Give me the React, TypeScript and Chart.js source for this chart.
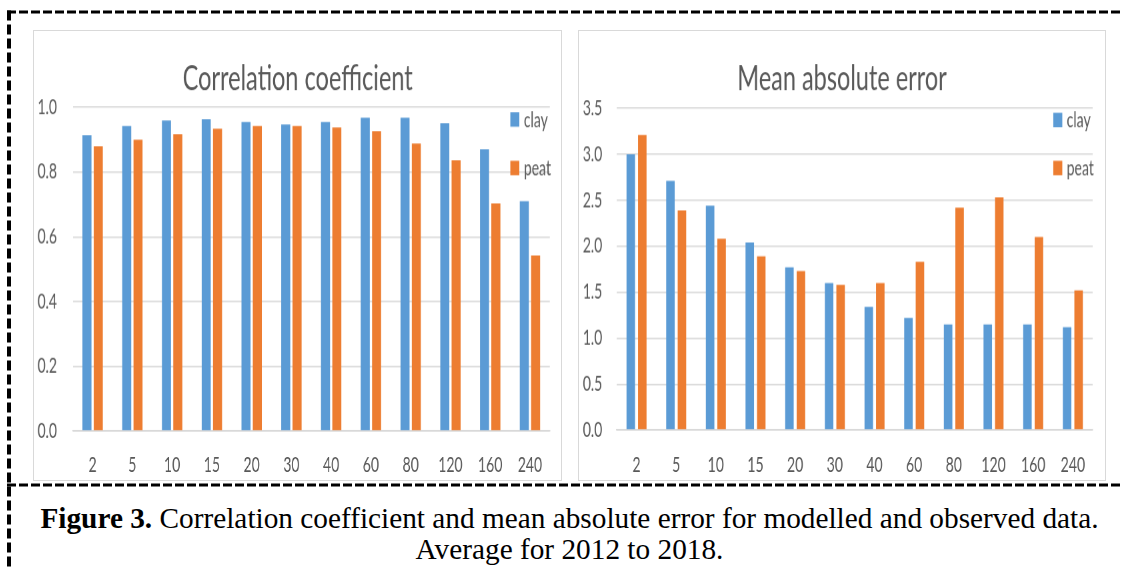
import React, { useEffect, useRef } from "react";
import { Chart, registerables } from "chart.js";

Chart.register(...registerables);

// ---- data ----
const INTERVALS = ["2", "5", "10", "15", "20", "30", "40", "60", "80", "120", "160", "240"];
const SERIES_NAMES = ["clay", "peat"];
const CORR_CLAY = [0.914, 0.942, 0.959, 0.963, 0.955, 0.947, 0.955, 0.968, 0.968, 0.951, 0.870, 0.710];
const CORR_PEAT = [0.880, 0.900, 0.917, 0.934, 0.942, 0.942, 0.938, 0.926, 0.888, 0.836, 0.703, 0.542];
const MAE_CLAY = [3.00, 2.71, 2.44, 2.04, 1.77, 1.60, 1.34, 1.22, 1.15, 1.15, 1.15, 1.12];
const MAE_PEAT = [3.21, 2.39, 2.08, 1.89, 1.73, 1.58, 1.60, 1.83, 2.42, 2.53, 2.10, 1.52];
const CORR_TICKS = { min: 0, max: 1.0, step: 0.2 };
const MAE_TICKS = { min: 0, max: 3.5, step: 0.5 };

const COLORS = ["#5B9BD5", "#ED7D31"];
const TEXT = "#595959";
const GRID = "#D9D9D9";
const FONT = "Lato, 'Open Sans', sans-serif";

const H = 300; // logical canvas height (stretched vertically)

interface PanelProps {
  title: string;
  clay: number[];
  peat: number[];
  ticks: { min: number; max: number; step: number };
  left: number;
  top: number;
  width: number;
  height: number;
  plotLeft: number;
  plotRight: number;
  plotTop: number;
  plotBottom: number;
  yLabelRight: number;
  xLabelY: number;
  catPct: number;
  barPct: number;
  markerX: number;
  textX: number;
  legendY: number[];
}

function Panel(p: PanelProps) {
  const ref = useRef<HTMLCanvasElement | null>(null);
  useEffect(() => {
    const canvas = ref.current;
    if (!canvas) return;
    const s = p.height / H;
    const toC = (y: number) => (y - p.top) / s;
    const cTop = toC(p.plotTop);
    const cBottom = toC(p.plotBottom);
    const yAxisW = p.plotLeft - p.left;
    const rightPad = p.left + p.width - p.plotRight;
    const xAxisH = H - cBottom;
    const xPad = toC(p.xLabelY) - cBottom - 14 * 0.6;
    const yPad = p.plotLeft - p.yLabelRight;

    const overlay = {
      id: "overlay",
      afterDraw(chart: any) {
        const ctx = chart.ctx;
        ctx.save();
        ctx.fillStyle = TEXT;
        ctx.font = `23.5px ${FONT}`;
        ctx.textAlign = "center";
        ctx.textBaseline = "alphabetic";
        ctx.fillText(p.title, chart.width / 2, toC(90));
        chart.data.datasets.forEach((ds: any, i: number) => {
          const cy = toC(p.legendY[i]);
          ctx.fillStyle = ds.backgroundColor;
          ctx.fillRect(p.markerX - p.left, cy - 4.8, 9, 9.6);
          ctx.fillStyle = TEXT;
          ctx.font = `14px ${FONT}`;
          ctx.textAlign = "left";
          ctx.textBaseline = "middle";
          ctx.fillText(ds.label, p.textX - p.left, cy + 0.5);
        });
        ctx.restore();
      },
    };

    const chart = new Chart(canvas, {
      type: "bar",
      data: {
        labels: INTERVALS,
        datasets: [
          { label: SERIES_NAMES[0], data: p.clay, backgroundColor: COLORS[0], barPercentage: p.barPct, categoryPercentage: p.catPct },
          { label: SERIES_NAMES[1], data: p.peat, backgroundColor: COLORS[1], barPercentage: p.barPct, categoryPercentage: p.catPct },
        ],
      },
      options: {
        animation: false,
        responsive: false,
        devicePixelRatio: 1.5,
        layout: { padding: { top: cTop, right: rightPad, left: 0, bottom: 0 } },
        plugins: {
          legend: { display: false },
          title: { display: false },
          tooltip: { enabled: false },
        },
        scales: {
          x: {
            grid: { display: false, drawTicks: false },
            border: { display: true, color: GRID, width: 1 },
            ticks: { color: TEXT, font: { family: FONT, size: 14 }, padding: xPad, maxRotation: 0, autoSkip: false },
            afterFit: (sc: any) => { sc.height = xAxisH; },
          },
          y: {
            min: p.ticks.min,
            max: p.ticks.max,
            ticks: {
              stepSize: p.ticks.step,
              color: TEXT,
              font: { family: FONT, size: 14 },
              padding: yPad,
              callback: (v: any) => Number(v).toFixed(1),
            },
            grid: { color: GRID, drawTicks: false, lineWidth: 1 },
            border: { display: false },
            afterFit: (sc: any) => { sc.width = yAxisW; },
          },
        },
      },
      plugins: [overlay],
    } as any);
    return () => chart.destroy();
  }, []);

  const s = p.height / H;
  return (
    <>
      <div
        style={{
          position: "absolute",
          left: p.left,
          top: p.top,
          width: p.width,
          height: p.height,
          border: `1px solid ${GRID}`,
          boxSizing: "border-box",
          background: "#fff",
        }}
      />
      <div
        style={{
          position: "absolute",
          left: p.left,
          top: p.top,
          width: p.width,
          height: H,
          transform: `scaleY(${s})`,
          transformOrigin: "top left",
        }}
      >
        <canvas ref={ref} width={p.width} height={H} style={{ display: "block" }} />
      </div>
    </>
  );
}

export default function App() {
  return (
    <div style={{ position: "absolute", left: 0, top: 0, width: 1123, height: 567, background: "#fff", overflow: "hidden" }}>
      <svg width={1123} height={567} style={{ position: "absolute", left: 0, top: 0 }}>
        <line x1={7} y1={12} x2={1123} y2={12} stroke="#000" strokeWidth={3} strokeDasharray="9 3" />
        <line x1={9} y1={10.5} x2={9} y2={567} stroke="#000" strokeWidth={4} strokeDasharray="10 4" />
        <line x1={7} y1={485} x2={1123} y2={485} stroke="#000" strokeWidth={3} strokeDasharray="9 3" />
      </svg>
      <Panel
        title="Correlation coefficient"
        clay={CORR_CLAY}
        peat={CORR_PEAT}
        ticks={CORR_TICKS}
        left={33}
        top={30}
        width={529}
        height={451}
        plotLeft={72.7}
        plotRight={549.5}
        plotTop={107.3}
        plotBottom={431}
        yLabelRight={57}
        xLabelY={465}
        catPct={0.569}
        barPct={0.8}
        markerX={510}
        textX={523.5}
        legendY={[119.5, 168]}
      />
      <Panel
        title="Mean absolute error"
        clay={MAE_CLAY}
        peat={MAE_PEAT}
        ticks={MAE_TICKS}
        left={578}
        top={30}
        width={528}
        height={451}
        plotLeft={616.7}
        plotRight={1092.7}
        plotTop={108.3}
        plotBottom={430}
        yLabelRight={602.3}
        xLabelY={465}
        catPct={0.58}
        barPct={0.74}
        markerX={1053.3}
        textX={1066.7}
        legendY={[120, 168]}
      />
      <div
        style={{
          position: "absolute",
          left: 16,
          top: 503,
          width: 1107,
          textAlign: "center",
          fontFamily: "'Liberation Serif', 'Times New Roman', serif",
          fontSize: 29.3,
          lineHeight: "31px",
          color: "#000",
          whiteSpace: "nowrap",
        }}
      >
        <b>Figure 3.</b> Correlation coefficient and mean absolute error for modelled and observed data.
        <br />
        Average for 2012 to 2018.
      </div>
    </div>
  );
}
